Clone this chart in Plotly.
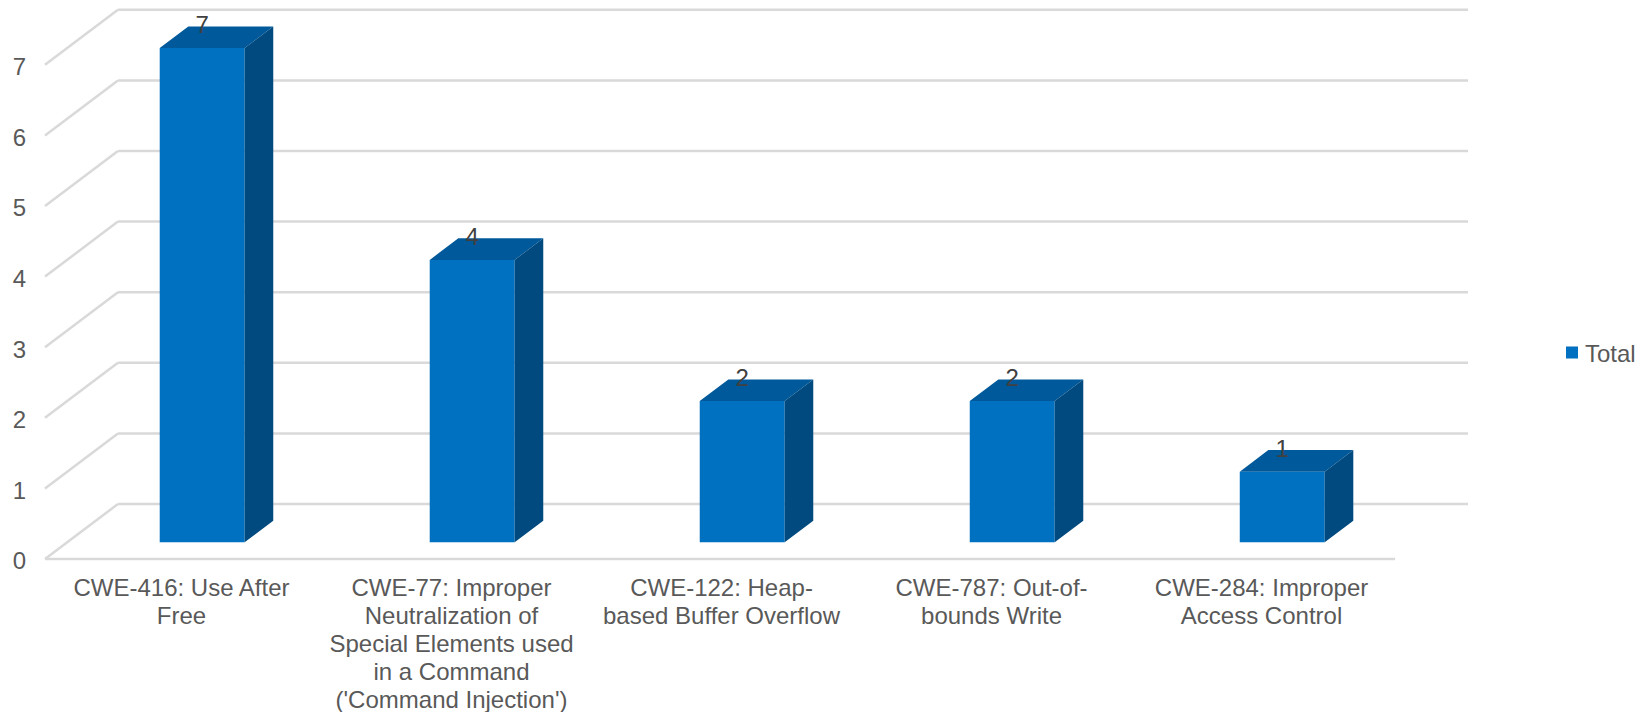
import plotly.graph_objects as go

categories = [
    "CWE-416: Use After<br>Free",
    "CWE-77: Improper<br>Neutralization of<br>Special Elements used<br>in a Command<br>('Command Injection')",
    "CWE-122: Heap-<br>based Buffer Overflow",
    "CWE-787: Out-of-<br>bounds Write",
    "CWE-284: Improper<br>Access Control",
]
values = [7, 4, 2, 2, 1]
value_ticks = [0, 1, 2, 3, 4, 5, 6, 7]
series_name = "Total"

# Chart scale (pixels per data unit) and oblique projection of the depth axis
W, H = 1641, 712
ML, MR, MT, MB = 40, 160, 5, 0
WALL_LEFT_PX = 45
FLOOR_PX = 559
PX_X = 270.2
PX_Y = 70.6
DX = 73 / PX_X
DY = 55 / PX_Y
D_FRONT, D_BACK = 0.304, 0.696
BAR_W = 85 / PX_X
LABEL_LIFT = 21 / PX_Y
TICK_DROP = 2 / PX_Y
CAT_FIRST = 31 / PX_Y
CAT_STEP = 28 / PX_Y
CAT_NUDGE = 1.5 / PX_X

plot_w = W - ML - MR
plot_h = H - MT - MB
x0_data = -0.5 - (WALL_LEFT_PX - ML) / PX_X
x_range = [x0_data, x0_data + plot_w / PX_X]
y_range = [-(H - MB - FLOOR_PX) / PX_Y, (FLOOR_PX - MT) / PX_Y]

GRID = "#D9D9D9"
TEXT = "#595959"
C_FRONT, C_TOP, C_SIDE = "#0070C0", "#00599A", "#004A7F"
FONT = "Liberation Sans, Arial, sans-serif"
FS = 24
n = len(values)


def proj(x, v, d):
    return x + d * DX, v + d * DY


shapes = []
line = dict(color=GRID, width=2.5)
for v in value_ticks:
    x0, y0 = proj(-0.5, v, 0)
    x1, y1 = proj(-0.5, v, 1)
    x2, y2 = proj(n - 0.5, v, 1)
    shapes.append(dict(type="line", layer="below", xref="x", yref="y", x0=x0, y0=y0, x1=x1, y1=y1, line=line))
    shapes.append(dict(type="line", layer="below", xref="x", yref="y", x0=x1, y0=y1, x1=x2, y1=y2, line=line))
shapes.append(dict(type="line", layer="below", xref="x", yref="y", x0=-0.5, y0=0, x1=n - 0.5, y1=0, line=line))

fig = go.Figure()

bx, by = proj(0, 0, D_FRONT)
fig.add_trace(go.Bar(
    x=[i + bx for i in range(n)],
    y=values,
    base=by,
    width=BAR_W,
    name=series_name,
    marker=dict(color=C_FRONT, line=dict(width=0)),
    showlegend=True,
    hoverinfo="skip",
))

top_x, top_y, side_x, side_y = [], [], [], []
for i, v in enumerate(values):
    xl = i - BAR_W / 2
    xr = i + BAR_W / 2
    a = proj(xl, v, D_FRONT)
    b = proj(xr, v, D_FRONT)
    c = proj(xr, v, D_BACK)
    d = proj(xl, v, D_BACK)
    e = proj(xr, 0, D_BACK)
    f = proj(xr, 0, D_FRONT)
    top_x += [a[0], b[0], c[0], d[0], a[0], None]
    top_y += [a[1], b[1], c[1], d[1], a[1], None]
    side_x += [b[0], c[0], e[0], f[0], b[0], None]
    side_y += [b[1], c[1], e[1], f[1], b[1], None]

fig.add_trace(go.Scatter(x=top_x, y=top_y, mode="lines", fill="toself", fillcolor=C_TOP,
                         line=dict(width=0, color=C_TOP), showlegend=False, hoverinfo="skip"))
fig.add_trace(go.Scatter(x=side_x, y=side_y, mode="lines", fill="toself", fillcolor=C_SIDE,
                         line=dict(width=0, color=C_SIDE), showlegend=False, hoverinfo="skip"))
fig.add_trace(go.Scatter(
    x=[i + bx for i in range(n)],
    y=[v + by + LABEL_LIFT for v in values],
    mode="text",
    text=[str(v) for v in values],
    textposition="middle center",
    textfont=dict(family=FONT, size=FS, color="#404040"),
    showlegend=False,
    hoverinfo="skip",
    cliponaxis=False,
))

# Category labels, one text per line: Excel's line spacing is tighter than Plotly's <br>
cat_x, cat_y, cat_t = [], [], []
for i, label in enumerate(categories):
    for k, part in enumerate(label.split("<br>")):
        cat_x.append(i + CAT_NUDGE)
        cat_y.append(-CAT_FIRST - k * CAT_STEP)
        cat_t.append(part)
fig.add_trace(go.Scatter(
    x=cat_x,
    y=cat_y,
    mode="text",
    text=cat_t,
    textposition="middle center",
    textfont=dict(family=FONT, size=FS, color=TEXT),
    showlegend=False,
    hoverinfo="skip",
    cliponaxis=False,
))

LEGEND_LEFT_PX = 1546.5
LEGEND_MID_PX = 353
fig.update_layout(
    width=W,
    height=H,
    margin=dict(l=ML, r=MR, t=MT, b=MB, pad=0),
    paper_bgcolor="white",
    plot_bgcolor="white",
    shapes=shapes,
    barmode="overlay",
    font=dict(family=FONT, size=FS, color=TEXT),
    xaxis=dict(
        range=x_range,
        tickmode="array",
        tickvals=list(range(n)),
        showticklabels=False,
        ticks="",
        showgrid=False,
        zeroline=False,
        showline=False,
        automargin=False,
    ),
    yaxis=dict(
        range=y_range,
        tickmode="array",
        tickvals=[v - TICK_DROP for v in value_ticks],
        ticktext=[str(v) for v in value_ticks],
        ticks="outside",
        ticklen=8,
        tickcolor="rgba(0,0,0,0)",
        showgrid=False,
        zeroline=False,
        showline=False,
        automargin=False,
        tickfont=dict(family=FONT, size=FS, color=TEXT),
    ),
    legend=dict(
        x=(LEGEND_LEFT_PX - ML) / plot_w,
        xanchor="left",
        y=(H - MB - LEGEND_MID_PX) / plot_h,
        yanchor="middle",
        bgcolor="rgba(0,0,0,0)",
        font=dict(family=FONT, size=FS, color=TEXT),
    ),
)

post = """
document.body.style.margin='0';
document.querySelectorAll('.legend .legendpoints').forEach(function(el){
  el.setAttribute('transform', (el.getAttribute('transform') || '') + ' translate(7,0)');
});
"""
fig.write_html("out.html", post_script=post, config={"displayModeBar": False})
